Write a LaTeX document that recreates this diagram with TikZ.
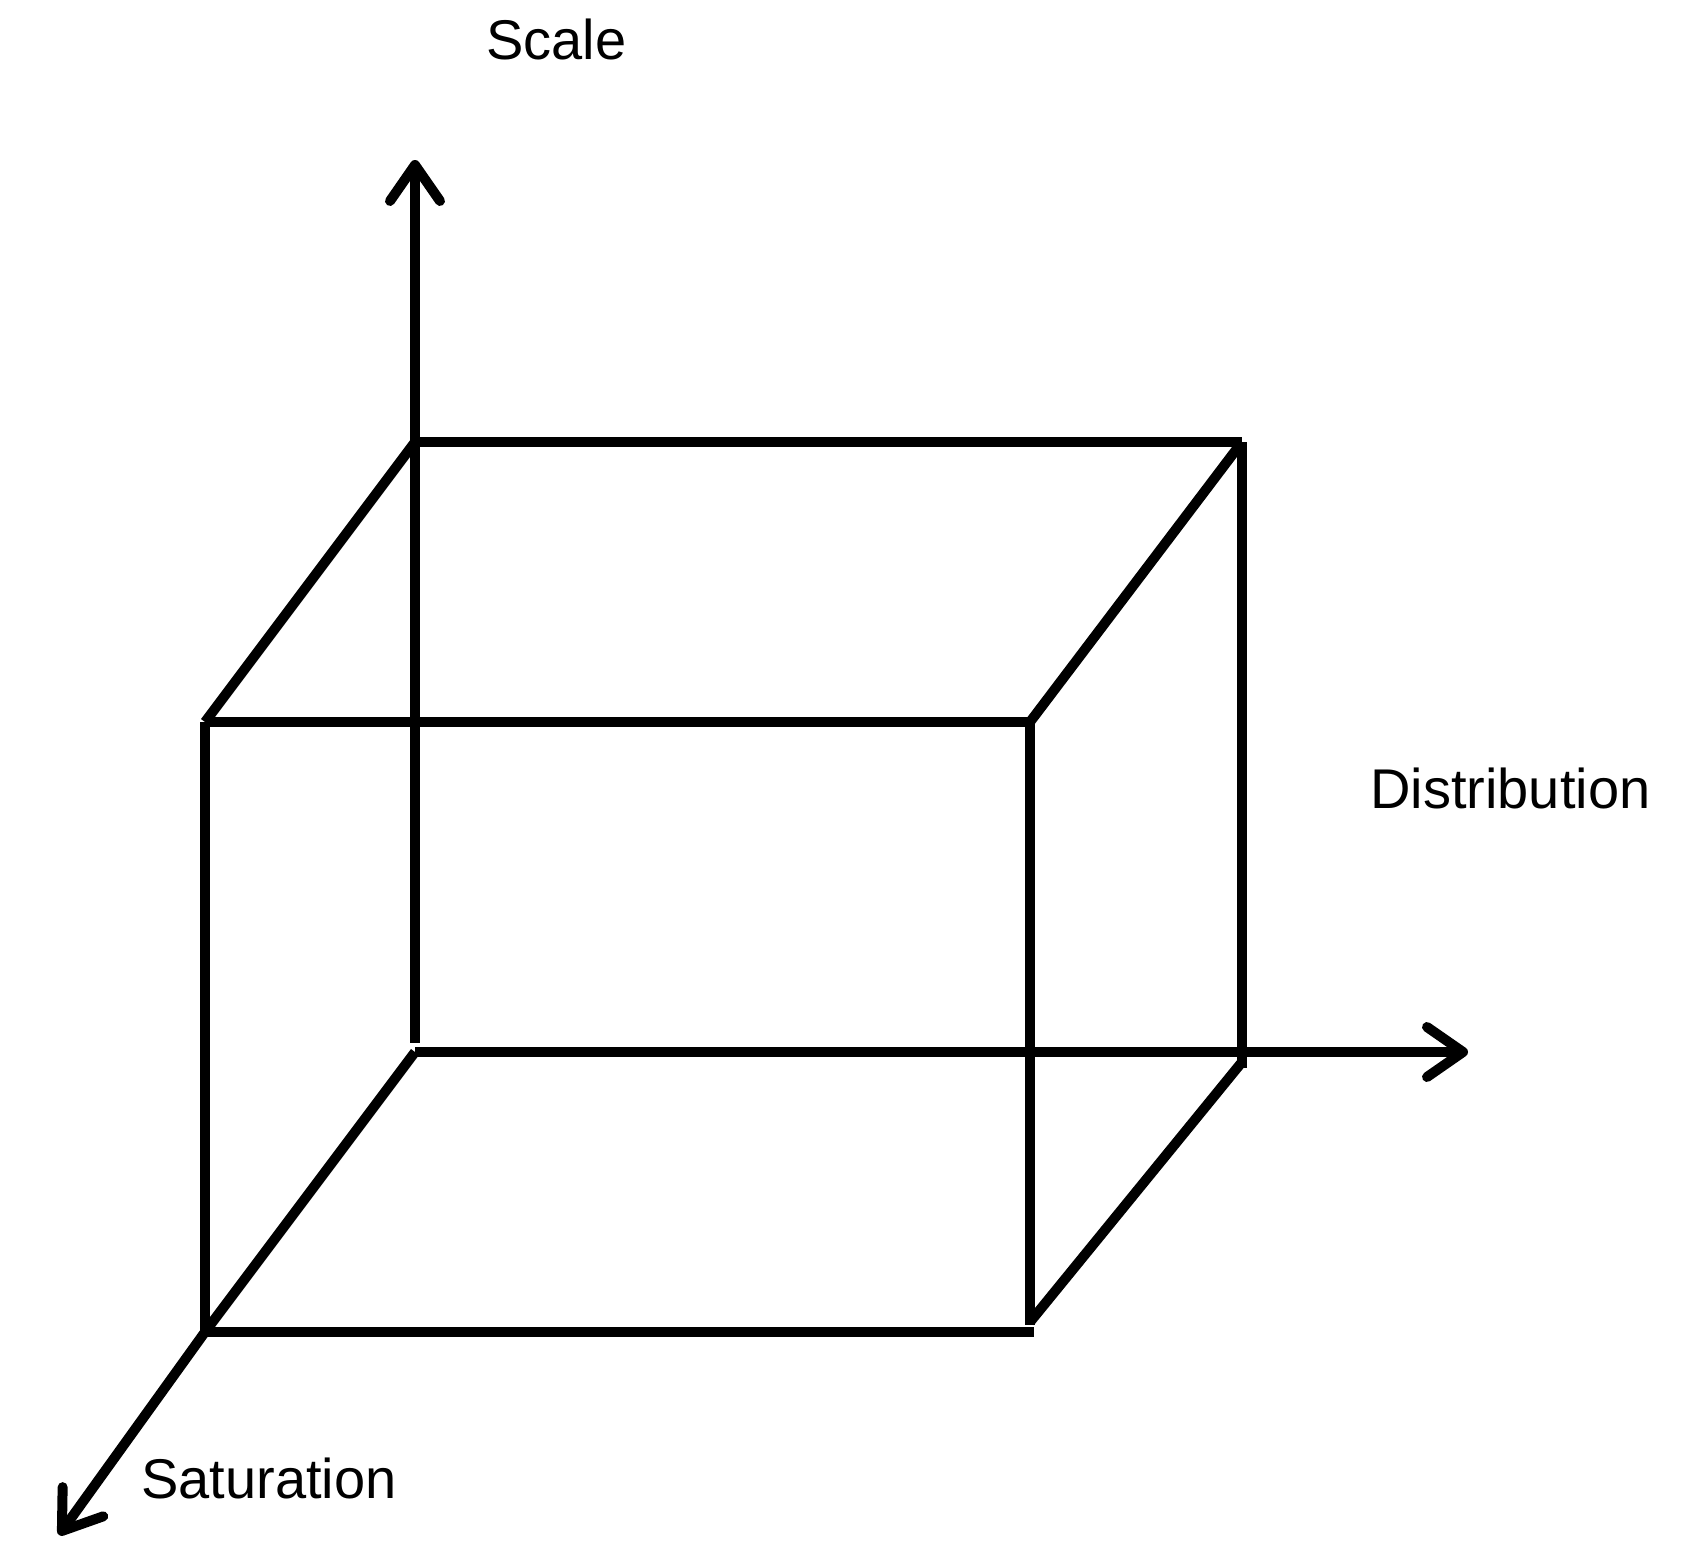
\documentclass[tikz,border=0pt]{standalone}
\usepackage{fontspec}
\setmainfont{Liberation Sans}
\usetikzlibrary{arrows.meta}
\begin{document}
\begin{tikzpicture}[x=1pt,y=-1pt,
  edge/.style={line width=10pt,black},
  axis/.style={line width=10pt,black,-{Straight Barb[length=36pt,width=50pt,line width=10pt,round]}},
  lbl/.style={inner sep=0pt,font=\fontsize{56}{60}\selectfont,anchor=base west}]
\useasboundingbox (0,0) rectangle (1702,1544);
\coordinate (BTL) at (415,442);
\coordinate (BTR) at (1242,442);
\coordinate (FTL) at (205,722);
\coordinate (FTR) at (1030,722);
\coordinate (FBL) at (205,1332);
\coordinate (FBR) at (1034,1332);
\coordinate (BBL) at (415,1052);
\coordinate (BBR) at (1242,1062);
\coordinate (BBLv) at (415,1043);
\coordinate (BBRv) at (1242,1068);
\coordinate (FBRv) at (1030,1325);
\coordinate (FBRd) at (1030,1322);
\coordinate (Ytip) at (415,160);
\coordinate (Xtip) at (1468,1052);
\coordinate (Ztip) at (59,1535);
% axes
\draw[axis] (BTL) -- (Ytip);
\draw[axis] (BBL) -- (Xtip);
\draw[axis] (FBL) -- (Ztip);
% back face verticals and top
\draw[edge] (BTL) -- (BTR);
\draw[edge] (BTL) -- (BBLv);
\draw[edge] (BTR) -- (BBRv);
% connecting edges
\draw[edge] (BTL) -- (FTL);
\draw[edge] (BTR) -- (FTR);
\draw[edge] (BBL) -- (FBL);
\draw[edge] (BBR) -- (FBRd);
% front face
\draw[edge] (FTL) -- (FTR);
\draw[edge] (FTL) -- (FBL);
\draw[edge] (FTR) -- (FBRv);
\draw[edge] (FBL) -- (FBR);
% labels
\node[lbl] (scale) at (486,60) {Scale};
\node[lbl] (dist) at (1370,808) {Distribution};
\node[lbl] (sat) at (141,1498) {Saturation};
\end{tikzpicture}
\end{document}
